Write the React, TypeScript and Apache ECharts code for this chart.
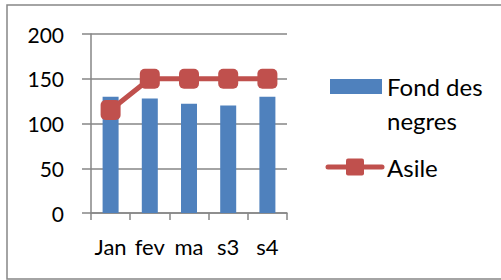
import React, { useEffect, useRef } from "react";
import * as echarts from "echarts";

const categories = ["Jan", "fev", "ma", "s3", "s4"];
const fondDesNegres = [130, 128, 122, 120, 130];
const asile = [115, 150, 150, 150, 150];
const yTicks = [0, 50, 100, 150, 200];
const legendNames = ["Fond des\nnegres", "Asile"];

const BLUE = "#4F81BD";
const RED = "#C0504D";
const GRAY = "#868686";
const FONT = "Lato";

export default function App() {
  const ref = useRef<HTMLDivElement>(null);
  useEffect(() => {
    if (!ref.current) return;
    const chart = echarts.init(ref.current, undefined, { renderer: "svg" });
    chart.setOption({
      animation: false,
      backgroundColor: "#fff",
      textStyle: { fontFamily: FONT },
      grid: { left: 91, right: 214, top: 34, bottom: 67, containLabel: false },
      xAxis: {
        type: "category",
        data: categories,
        axisLine: { lineStyle: { color: GRAY, width: 1.5 } },
        axisTick: { show: true, length: 7, lineStyle: { color: GRAY, width: 1.5 } },
        axisLabel: { color: "#000", fontSize: 22, fontFamily: FONT, margin: 22, interval: 0 },
      },
      yAxis: {
        type: "value",
        min: yTicks[0],
        max: yTicks[yTicks.length - 1],
        interval: 50,
        axisLine: { show: true, lineStyle: { color: GRAY, width: 1.5 } },
        axisTick: { show: true, length: 9, lineStyle: { color: GRAY, width: 1.5 } },
        splitLine: { lineStyle: { color: GRAY, width: 1.5 } },
        axisLabel: { color: "#000", fontSize: 21, fontFamily: FONT, margin: 27 },
      },
      series: [
        {
          name: legendNames[0],
          type: "bar",
          data: fondDesNegres,
          barWidth: 16,
          itemStyle: { color: BLUE },
        },
        {
          name: legendNames[1],
          type: "line",
          data: asile,
          symbol: "roundRect",
          symbolSize: 20,
          lineStyle: { color: RED, width: 5 },
          itemStyle: { color: RED },
        },
      ],
      graphic: [
        {
          type: "rect",
          shape: { x: 7, y: 5, width: 520, height: 274 },
          style: { fill: "none", stroke: GRAY, lineWidth: 1.5 },
          silent: true,
        },
        {
          type: "rect",
          shape: { x: 330, y: 79, width: 52, height: 15 },
          style: { fill: BLUE },
        },
        {
          type: "text",
          x: 387,
          y: 69.5,
          style: {
            text: legendNames[0],
            fontSize: 24,
            fontFamily: FONT,
            fill: "#000",
            lineHeight: 34,
          },
        },
        {
          type: "line",
          shape: { x1: 328, y1: 167, x2: 382, y2: 167 },
          style: { stroke: RED, lineWidth: 5, lineCap: "round" },
        },
        {
          type: "rect",
          shape: { x: 346, y: 158.5, width: 18, height: 17, r: 2 },
          style: { fill: RED },
        },
        {
          type: "text",
          x: 387,
          y: 167,
          style: {
            text: legendNames[1],
            fontSize: 24,
            fontFamily: FONT,
            fill: "#000",
            verticalAlign: "middle",
          },
        },
      ],
    });
    return () => chart.dispose();
  }, []);
  return (
    <div
      ref={ref}
      style={{ position: "fixed", left: 0, top: 0, width: 501, height: 280 }}
    />
  );
}
